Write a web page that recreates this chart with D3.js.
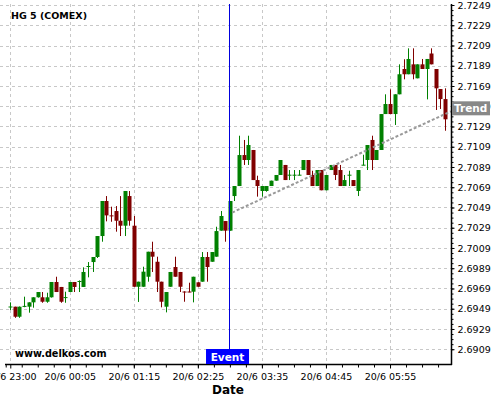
<!DOCTYPE html>
<html><head><meta charset="utf-8">
<script src="https://cdn.jsdelivr.net/npm/d3@7"></script>
<style>body{margin:0;background:#fff;} svg{display:block;}</style>
</head><body>
<svg id="chart" width="500" height="400"></svg>
<script>
// ---- data ----
const title = "HG 5 (COMEX)";
const xTickIdx = [0, 13, 27, 41, 55, 69, 83];
const xTickLabels = ["19/6 23:00", "20/6 00:05", "20/6 01:15", "20/6 02:25", "20/6 03:35", "20/6 04:45", "20/6 05:55"];
const yTickValues = [2.6909, 2.6929, 2.6949, 2.6969, 2.6989, 2.7009, 2.7029, 2.7049, 2.7069, 2.7089, 2.7109, 2.7129, 2.7149, 2.7169, 2.7189, 2.7209, 2.7229, 2.7249];
const opens = [2.69508,2.69510,2.69411,2.69510,2.69510,2.69553,2.69603,2.69603,2.69559,2.69603,
2.69754,2.69705,2.69600,2.69655,2.69754,2.69757,2.69705,2.69905,2.69951,2.70001,
2.70208,2.70554,2.70412,2.70455,2.70359,2.70310,2.70603,2.70310,2.69707,2.69707,
2.69806,2.70053,2.69954,2.69757,2.69510,2.69707,2.69902,2.69853,2.69660,2.69660,
2.69658,2.69751,2.69757,2.70001,2.69954,2.70004,2.70261,2.70356,2.70261,2.70603,
2.70702,2.71008,2.70959,2.71058,2.70761,2.70653,2.70653,2.70702,2.70755,2.70811,
2.70910,2.70808,2.70808,2.70808,2.70860,2.70959,2.70811,2.70702,2.70860,2.70660,
2.70860,2.70910,2.70860,2.70702,2.70808,2.70761,2.70653,2.70907,2.70959,2.71157,
2.70959,2.71058,2.71413,2.71512,2.71413,2.71608,2.71858,2.71806,2.71904,2.71766,
2.71904,2.71858,2.72011,2.71858,2.71660,2.71561];
const highs = [2.69553,2.69510,2.69512,2.69609,2.69553,2.69603,2.69655,2.69655,2.69648,2.69754,
2.69806,2.69705,2.69658,2.69754,2.69754,2.69770,2.69899,2.69951,2.70001,2.70208,
2.70554,2.70603,2.70498,2.70504,2.70603,2.70653,2.70653,2.70406,2.69757,2.69905,
2.70053,2.70152,2.70004,2.69757,2.69655,2.69853,2.70004,2.69853,2.69662,2.69747,
2.69806,2.69751,2.70050,2.70050,2.70050,2.70300,2.70455,2.70356,2.70554,2.70702,
2.71199,2.71157,2.71199,2.71058,2.70804,2.70702,2.70702,2.70755,2.70811,2.70959,
2.70910,2.70860,2.70860,2.70860,2.70959,2.70959,2.70853,2.70860,2.70860,2.70811,
2.70910,2.70910,2.70910,2.70811,2.70853,2.70761,2.70860,2.71011,2.71107,2.71199,
2.71058,2.71413,2.71608,2.71657,2.71608,2.71904,2.71954,2.72062,2.72062,2.71904,
2.71957,2.71957,2.72062,2.71858,2.71660,2.71667];
const lows = [2.69477,2.69400,2.69400,2.69505,2.69451,2.69500,2.69600,2.69549,2.69549,2.69600,
2.69655,2.69549,2.69549,2.69655,2.69655,2.69655,2.69705,2.69800,2.69853,2.69991,
2.70152,2.70353,2.70349,2.70251,2.70208,2.70208,2.70310,2.69707,2.69557,2.69707,
2.69757,2.69853,2.69655,2.69504,2.69454,2.69707,2.69806,2.69655,2.69559,2.69653,
2.69553,2.69707,2.69757,2.69757,2.69954,2.70004,2.70261,2.70152,2.70261,2.70554,
2.70702,2.70910,2.70910,2.70761,2.70597,2.70597,2.70646,2.70702,2.70755,2.70811,
2.70761,2.70761,2.70761,2.70808,2.70860,2.70811,2.70702,2.70702,2.70660,2.70660,
2.70860,2.70761,2.70702,2.70702,2.70702,2.70702,2.70603,2.70907,2.70860,2.70860,
2.70959,2.71058,2.71413,2.71413,2.71305,2.71608,2.71756,2.71806,2.71756,2.71766,
2.71858,2.71558,2.71904,2.71453,2.71463,2.71248];
const closes = [2.69512,2.69411,2.69510,2.69518,2.69553,2.69603,2.69655,2.69559,2.69603,2.69754,
2.69655,2.69559,2.69605,2.69754,2.69705,2.69764,2.69853,2.69912,2.70001,2.70208,
2.70554,2.70412,2.70410,2.70359,2.70310,2.70653,2.70359,2.69707,2.69757,2.69856,
2.70053,2.70004,2.69757,2.69559,2.69655,2.69853,2.69806,2.69707,2.69655,2.69653,
2.69806,2.69707,2.70001,2.69902,2.70050,2.70257,2.70406,2.70261,2.70554,2.70702,
2.71008,2.70959,2.71107,2.70761,2.70702,2.70702,2.70702,2.70755,2.70811,2.70959,
2.70761,2.70814,2.70814,2.70814,2.70959,2.70811,2.70702,2.70860,2.70660,2.70811,
2.70910,2.70811,2.70702,2.70761,2.70814,2.70702,2.70860,2.70913,2.71107,2.70959,
2.71058,2.71413,2.71512,2.71413,2.71608,2.71806,2.71806,2.71957,2.71806,2.71904,
2.71858,2.71957,2.71904,2.71667,2.71561,2.71361];
const eventIdx = [47.7];
const eventLabel = "Event";
const trendIdx = [48.5, 96.33];
const trendValues = [2.7044, 2.7144];
const trendLabel = "Trend";
const watermark = "www.delkos.com";
const xAxisTitle = "Date";

// ---- drawing ----
const svg = d3.select("#chart");
const W = 451, TOP = 4, BOT = 364;
const x = d3.scaleLinear().domain([-2.25, 96.33]).range([0, W]);
const y = d3.scaleLinear().domain([2.68944, 2.72500]).range([BOT, TOP]);
const font = "DejaVu Sans, Verdana, sans-serif";
const green = "#008000", red = "#800000";

// grid
const grid = svg.append("g");
grid.selectAll("line.h").data(yTickValues).join("line")
  .attr("x1", 0).attr("x2", W)
  .attr("y1", d => Math.round(y(d)) + 0.5).attr("y2", d => Math.round(y(d)) + 0.5)
  .attr("stroke", "#c8c8c8").attr("stroke-dasharray", "3,3");
grid.selectAll("line.v").data(xTickIdx).join("line")
  .attr("x1", d => Math.round(x(d)) + 0.5).attr("x2", d => Math.round(x(d)) + 0.5)
  .attr("y1", TOP).attr("y2", BOT)
  .attr("stroke", "#c8c8c8").attr("stroke-dasharray", "3,3");

// title
svg.append("text").attr("x", 11).attr("y", 19).text(title)
  .attr("font-family", font).attr("font-weight", "bold").attr("font-size", 9.5).attr("fill", "#000");

// candles
const idx = d3.range(opens.length);
const cg = svg.append("g");
cg.selectAll("line.w").data(idx).join("line")
  .attr("x1", i => Math.round(x(i)) + 0.5).attr("x2", i => Math.round(x(i)) + 0.5)
  .attr("y1", i => y(highs[i])).attr("y2", i => y(lows[i]))
  .attr("stroke", i => closes[i] >= opens[i] ? green : red).attr("stroke-width", 1);
cg.selectAll("rect").data(idx).join("rect")
  .attr("x", i => Math.round(x(i)) - 1.5).attr("width", 4)
  .attr("y", i => y(Math.max(opens[i], closes[i])))
  .attr("height", i => Math.max(1, Math.abs(y(opens[i]) - y(closes[i]))))
  .attr("fill", i => closes[i] >= opens[i] ? green : red);

// trend line
svg.append("line")
  .attr("x1", x(trendIdx[0])).attr("y1", y(trendValues[0]))
  .attr("x2", x(trendIdx[1])).attr("y2", y(trendValues[1]))
  .attr("stroke", "#999").attr("stroke-width", 2).attr("stroke-dasharray", "3,2");

// event line
svg.append("line")
  .attr("x1", Math.round(x(eventIdx[0])) + 0.5).attr("x2", Math.round(x(eventIdx[0])) + 0.5)
  .attr("y1", TOP).attr("y2", BOT).attr("stroke", "#0000dd").attr("stroke-width", 1);

// watermark
svg.append("text").attr("x", 15).attr("y", 357).text(watermark)
  .attr("font-family", font).attr("font-weight", "bold").attr("font-size", 9.7).attr("fill", "#000");

// axes
const yAxis = d3.axisRight(y).tickValues(yTickValues).tickSize(3).tickPadding(3).tickSizeOuter(0).tickFormat(d3.format(".4f"));
const ya = svg.append("g").attr("transform", `translate(${W + 0.5},0)`).call(yAxis);
ya.select(".domain").remove();
ya.selectAll("text").attr("font-family", font).attr("font-size", 9.5).attr("fill", "#000");
const yMinor = d3.range(0, 69).map(k => 2.6909 + k * 0.0005).filter(v => v < y.domain()[1]);
svg.append("g").attr("transform", `translate(${W + 0.5},0)`)
  .call(d3.axisRight(y).tickValues(yMinor).tickSize(2).tickFormat("").tickSizeOuter(0))
  .select(".domain").remove();

const xAxis = d3.axisBottom(x).tickValues(xTickIdx).tickSize(4).tickPadding(5).tickSizeOuter(0).tickFormat((d, i) => xTickLabels[i]);
const xa = svg.append("g").attr("transform", `translate(0,${BOT + 0.5})`).call(xAxis);
xa.select(".domain").remove();
xa.selectAll("text").attr("font-family", font).attr("font-size", 9.5).attr("fill", "#000");
const xMinor = d3.range(-1, 97, 3.5).filter(v => x(v) >= 0 && x(v) <= W);
svg.append("g").attr("transform", `translate(0,${BOT + 0.5})`)
  .call(d3.axisBottom(x).tickValues(xMinor).tickSize(3).tickFormat("").tickSizeOuter(0))
  .select(".domain").remove();

// frame lines
svg.append("line").attr("x1", 5).attr("x2", W + 1).attr("y1", BOT + 0.5).attr("y2", BOT + 0.5).attr("stroke", "#000").attr("stroke-width", 1.5);
svg.append("line").attr("x1", W + 0.5).attr("x2", W + 0.5).attr("y1", TOP).attr("y2", BOT + 1).attr("stroke", "#000").attr("stroke-width", 1.5);

// event label
const ex = x(eventIdx[0]);
svg.append("rect").attr("x", ex - 22.5).attr("y", BOT - 15).attr("width", 43).attr("height", 15).attr("fill", "#0000ff");
svg.append("text").attr("x", ex - 1).attr("y", BOT - 3.5).attr("text-anchor", "middle").text(eventLabel)
  .attr("font-family", font).attr("font-weight", "bold").attr("font-size", 10.5).attr("fill", "#fff");

// trend label
const ty = y(trendValues[1]);
svg.append("rect").attr("x", W + 1).attr("y", ty - 10).attr("width", 38).attr("height", 14).attr("fill", "#888");
svg.append("text").attr("x", W + 3).attr("y", ty + 1).text(trendLabel)
  .attr("font-family", font).attr("font-weight", "bold").attr("font-size", 10.5).attr("fill", "#fff");

// x axis title
svg.append("text").attr("x", 228).attr("y", 394).attr("text-anchor", "middle").text(xAxisTitle)
  .attr("font-family", font).attr("font-weight", "bold").attr("font-size", 12).attr("fill", "#000");
</script>
</body></html>
